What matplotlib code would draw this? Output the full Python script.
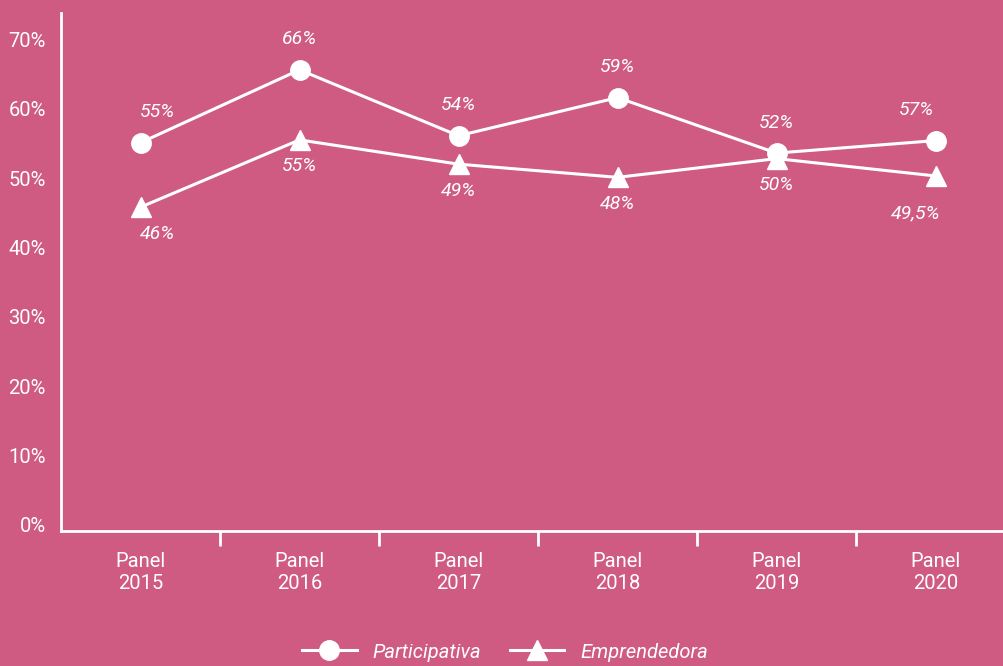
import matplotlib.pyplot as plt
from matplotlib.lines import Line2D

# Données
panels = ["Panel\n2015", "Panel\n2016", "Panel\n2017", "Panel\n2018", "Panel\n2019", "Panel\n2020"]
participativa = [55.1, 65.6, 56.1, 61.6, 53.6, 55.4]
participativa_labels = ["55%", "66%", "54%", "59%", "52%", "57%"]
emprendedora = [45.8, 55.5, 52.0, 50.1, 52.8, 50.3]
emprendedora_labels = ["46%", "55%", "49%", "48%", "50%", "49,5%"]
y_ticks = [0, 10, 20, 30, 40, 50, 60, 70]

bg = "#CF5A82"
fg = "white"
plt.rcParams["font.family"] = ["Roboto", "DejaVu Sans"]

fig = plt.figure(figsize=(10.04, 6.66), dpi=100, facecolor=bg)
ax = fig.add_axes([61 / 1004, 1 - 531 / 666, 943 / 1004, 518 / 666])
ax.set_facecolor(bg)

x = list(range(len(panels)))
ax.plot(x, participativa, color=fg, lw=2.2, marker="o", ms=14, clip_on=False)
ax.plot(x, emprendedora, color=fg, lw=2.2, marker="^", ms=15, clip_on=False)

# décalage horizontal des étiquettes (premier et dernier point)
dx = [12, 0, 0, 0, 0, -14]
for i in x:
    ax.annotate(participativa_labels[i], (i, participativa[i]), xytext=(dx[i], 22),
                textcoords="offset points", ha="center", va="center",
                color=fg, fontsize=14, style="italic")
    off = -27 if i == 5 else -19
    ax.annotate(emprendedora_labels[i], (i, emprendedora[i]), xytext=(dx[i], off),
                textcoords="offset points", ha="center", va="center",
                color=fg, fontsize=14, style="italic")

ax.set_xlim(-0.5, 5.43)
ax.set_ylim(-0.9, 73.8)
ax.set_yticks(y_ticks)
ax.set_yticklabels([f"{v}%" for v in y_ticks])
ax.tick_params(axis="y", length=0, colors=fg, labelsize=14.5, pad=11)

# ticks entre les catégories, étiquettes au centre
ax.set_xticks([i + 0.5 for i in x[:-1]])
ax.set_xticklabels([])
ax.set_xticks(x, minor=True)
ax.set_xticklabels(panels, minor=True)
ax.tick_params(axis="x", which="major", direction="out", length=11, width=2, colors=fg)
ax.tick_params(axis="x", which="minor", length=0, labelsize=14.5, labelcolor=fg, pad=15)

for s in ["top", "right"]:
    ax.spines[s].set_visible(False)
for s in ["left", "bottom"]:
    ax.spines[s].set_color(fg)
    ax.spines[s].set_linewidth(2)

handles = [
    Line2D([0], [0], color=fg, lw=2.2, marker="o", ms=14),
    Line2D([0], [0], color=fg, lw=2.2, marker="^", ms=15),
]
leg = fig.legend(handles, ["Participativa", "Emprendedora"], loc="center",
                 bbox_to_anchor=(505 / 1004, 1 - 652 / 666), ncol=2, frameon=False,
                 handlelength=2.7, columnspacing=1.4, handletextpad=0.8,
                 prop={"size": 14.5, "style": "italic"})
for t in leg.get_texts():
    t.set_color(fg)

fig.savefig("out.png", dpi=100, facecolor=bg)
